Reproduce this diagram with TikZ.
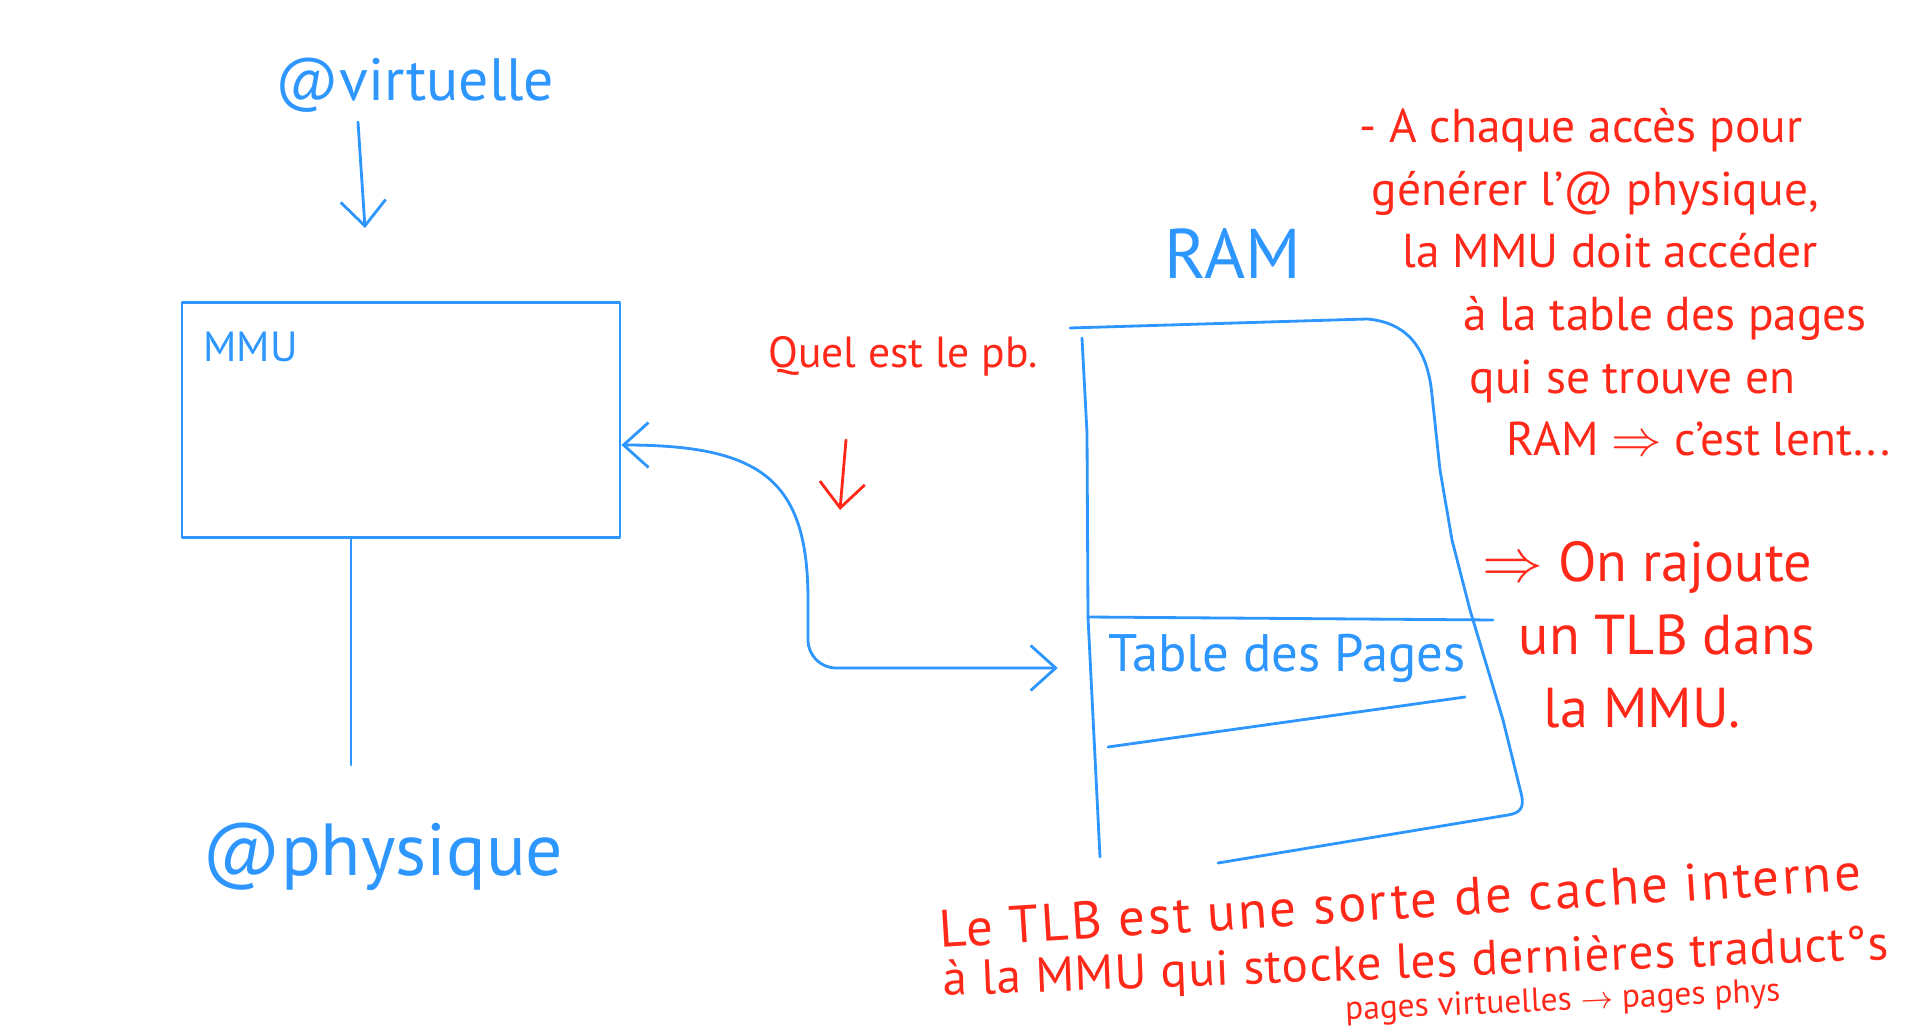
\documentclass[tikz,border=0pt]{standalone}
\usepackage{fontspec}
\setmainfont{PT Sans}
\usetikzlibrary{arrows.meta}
\definecolor{inkblue}{RGB}{45,150,255}
\definecolor{inkred}{RGB}{255,40,25}
\tikzset{
	ink/.style={draw=inkblue,line width=0.8pt,line cap=round,line join=round},
	redink/.style={draw=inkred,line width=0.8pt,line cap=round},
	barb/.style={-{Straight Barb[length=2.5mm,width=4.5mm]}},
	bluetxt/.style={text=inkblue,inner sep=0pt},
	redtxt/.style={text=inkred,inner sep=0pt,align=left},
}
\begin{document}
\begin{tikzpicture}[x=0.1mm,y=-0.1mm]
	\useasboundingbox (0,0) rectangle (1920,1027);
	% the MMU and its two addresses
	\node[bluetxt,font=\fontsize{17}{20}\selectfont] (virt) at (415,85) {@virtuelle};
	\node[ink,minimum width=4.38cm,minimum height=2.35cm] (mmu) at (401,420) {};
	\node[bluetxt,font=\fontsize{12}{14}\selectfont,anchor=north west] (mmulbl) at ([xshift=2.2mm,yshift=-3mm]mmu.north west) {MMU};
	\node[bluetxt,font=\fontsize{21}{24}\selectfont] (phys) at (383,857) {@physique};
	\coordinate (vout) at (358,122);
	\coordinate (vin) at (365,228);
	\coordinate (pout) at (351,765);
	\draw[ink,barb] (vout) -- (vin);
	\draw[ink] (mmu.south -| pout) -- (pout);
	%% the RAM
	\node[bluetxt,font=\fontsize{20}{24}\selectfont] (ram) at (1233,254) {RAM};
	\node[bluetxt,font=\fontsize{15}{18}\selectfont] (tbl) at (1287,658) {Table des Pages};
	\draw[ink] (1070,328) -- (1367,319) .. controls (1402,322) and (1427,342) .. (1432,395)
		-- (1440,470) -- (1452,540) -- (1470,610) -- (1503,720) -- (1521,793)
		.. controls (1525,808) and (1520,813) .. (1508,815) -- (1218,863);
	\draw[ink] (1082,338) -- (1087,433) -- (1088,617) -- (1100,857);
	\draw[ink] (1088,617) -- (1493,620);
	\draw[ink] (1108,747) -- (1465,697);
	% MMU <-> page table
	\coordinate (bend) at (808,600);
	\draw[ink,{Straight Barb[length=2.5mm,width=4.5mm]}-{Straight Barb[length=2.5mm,width=4.5mm]}]
		([yshift=-2.5mm]mmu.east) .. controls +(140,0) and +(0,-120) .. (bend)
		[rounded corners=8pt] |- ([xshift=-5mm,yshift=-1mm]tbl.west);
	%% the question
	\node[redtxt,font=\fontsize{12.4}{15}\selectfont] (pb) at (903,356) {Quel est le pb.};
	\coordinate (pbtop) at (846,440);
	\coordinate (pbend) at (840,510);
	\draw[redink,barb] (pbtop) -- (pbend);
	%% the notes
	\node[redtxt,font=\fontsize{13.5}{17.8}\selectfont,anchor=north west] (slow) at (1359,108)
		{- A chaque accès pour\\
		\hspace*{1.2mm}générer l'@ physique,\\
		\hspace*{4.3mm}la MMU doit accéder\\
		\hspace*{10.4mm}à la table des pages\\
		\hspace*{11mm}qui se trouve en\\
		\hspace*{14.7mm}RAM $\Rightarrow$ c'est lent...};
	\node[redtxt,font=\fontsize{16}{20.8}\selectfont,anchor=north west] (fix) at (1482,541)
		{$\Rightarrow$ On rajoute\\
		\hspace*{3.6mm}un TLB dans\\
		\hspace*{6.1mm}la MMU.};
	\node[redtxt,font=\fontsize{15}{18}\selectfont\addfontfeature{LetterSpace=5},anchor=base west,rotate=3.6] (tlbA) at (940,948) {Le TLB est une sorte de cache interne};
	\node[redtxt,font=\fontsize{14}{17}\selectfont\addfontfeature{LetterSpace=2},anchor=base west,rotate=2.2] (tlbB) at (943,996) {à la MMU qui stocke les dernières traduct°s};
	\node[redtxt,font=\fontsize{9.5}{11}\selectfont,anchor=base west,rotate=2.5] (tlbC) at (1345,1020) {pages virtuelles $\rightarrow$ pages phys};
\end{tikzpicture}
\end{document}
